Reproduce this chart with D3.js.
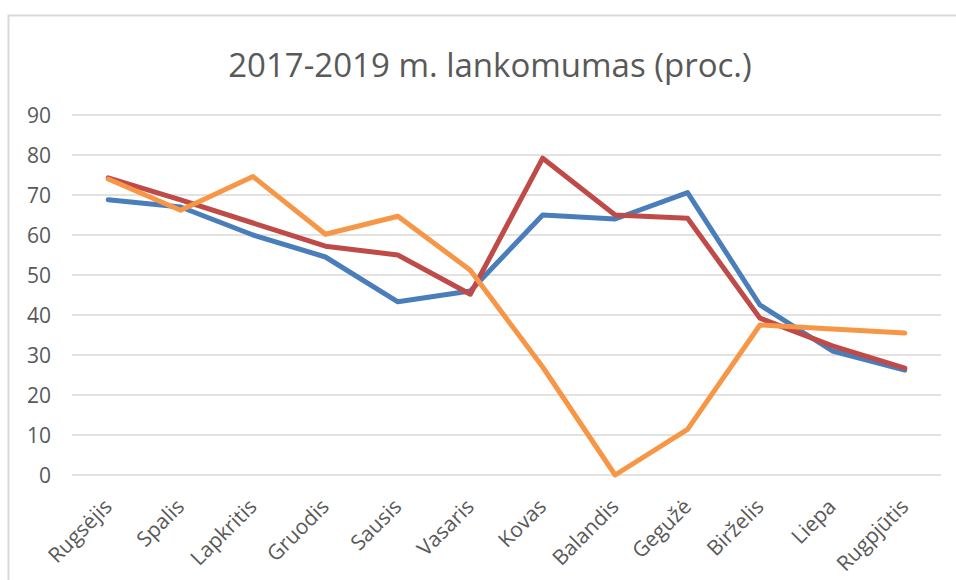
<!DOCTYPE html>
<html>
<head>
<meta charset="utf-8">
<script src="https://cdn.jsdelivr.net/npm/d3@7"></script>
<style>
  body { margin: 0; background: #fff; }
  text { font-family: "Open Sans", "Noto Sans", sans-serif; fill: #595959; }
</style>
</head>
<body>
<svg id="chart" width="956" height="580"></svg>
<script>
// menesiai (mokslo metai)
var months = ["Rugsėjis", "Spalis", "Lapkritis", "Gruodis", "Sausis", "Vasaris",
              "Kovas", "Balandis", "Gegužė", "Birželis", "Liepa", "Rugpjūtis"];

// trys serijos, vertes nuskaitytos is paveikslo
var seriesBlue   = [68.8, 67, 60, 54.5, 43.3, 46, 65, 64, 70.6, 42.5, 31, 26.2];
var seriesRed    = [74.3, 68.8, 63, 57.2, 55, 45.2, 79.2, 65, 64.2, 39.2, 32.3, 26.7];
var seriesOrange = [74, 66.2, 74.6, 60.2, 64.7, 51.2, 27, 0, 11.4, 37.5, 36.5, 35.5];

var yTicks = [0, 10, 20, 30, 40, 50, 60, 70, 80, 90];
var title = "2017-2019 m. lankomumas (proc.)";

var series = [
    { name: "blue", values: seriesBlue, color: "#4a7ebb" },
    { name: "red", values: seriesRed, color: "#be4b48" },
    { name: "orange", values: seriesOrange, color: "#f79646" }
];

var svg = d3.select("#chart");

// chart frame (only top and left edges show in the picture)
svg.append("path")
    .attr("d", "M8.5,580 V15.5 H956")
    .attr("fill", "none")
    .attr("stroke", "#d9d9d9")
    .attr("stroke-width", 2);

svg.append("text")
    .attr("x", 490)
    .attr("y", 77)
    .attr("text-anchor", "middle")
    .style("font-size", "33px")
    .text(title);

var pLeft = 72, pRight = 941, pTop = 115, pBottom = 475;

var x = d3.scaleBand().domain(months).range([pLeft, pRight]);
var y = d3.scaleLinear().domain([0, 90]).range([pBottom, pTop]);

// gridlines
svg.append("g")
    .selectAll("line")
    .data(yTicks)
    .enter().append("line")
    .attr("x1", pLeft)
    .attr("x2", pRight)
    .attr("y1", function (d) { return y(d); })
    .attr("y2", function (d) { return y(d); })
    .attr("stroke", "#d9d9d9")
    .attr("stroke-width", 1.3);

// y axis labels
var yAxis = svg.append("g")
    .attr("transform", "translate(" + (pLeft - 21) + ",0)")
    .call(d3.axisLeft(y).tickValues(yTicks).tickSize(0).tickPadding(0));
yAxis.select(".domain").remove();
yAxis.selectAll("text")
    .style("font-size", "21px")
    .style("font-family", "\"Open Sans\", sans-serif")
    .attr("fill", "#666")
    .attr("dy", "0.36em");

// x axis labels, rotated
var xAxis = svg.append("g")
    .attr("transform", "translate(0," + pBottom + ")")
    .call(d3.axisBottom(x).tickSize(0).tickPadding(0));
xAxis.select(".domain").remove();
xAxis.selectAll("text")
    .style("font-size", "21px")
    .style("font-family", "\"Open Sans\", sans-serif")
    .attr("fill", "#595959")
    .attr("text-anchor", "end")
    .attr("y", 0)
    .attr("dy", 0)
    .attr("transform", "translate(5,33) rotate(-45)");

var line = d3.line()
    .x(function (d, i) { return x(months[i]) + x.bandwidth() / 2; })
    .y(function (d) { return y(d); });

svg.append("g")
    .selectAll("path")
    .data(series)
    .enter().append("path")
    .attr("d", function (s) { return line(s.values); })
    .attr("fill", "none")
    .attr("stroke", function (s) { return s.color; })
    .attr("stroke-width", 5)
    .attr("stroke-linejoin", "round")
    .attr("stroke-linecap", "round");
</script>
</body>
</html>
